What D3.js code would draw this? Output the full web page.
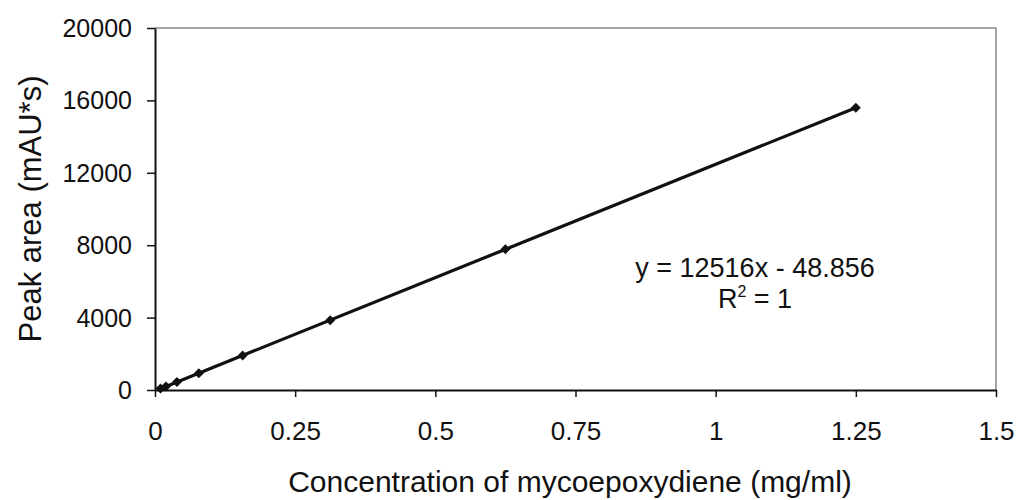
<!DOCTYPE html>
<html><head><meta charset="utf-8">
<script src="https://cdn.jsdelivr.net/npm/d3@7"></script>
<style>body{margin:0;background:#fff}text{font-family:"Liberation Sans",Arial,sans-serif;fill:#111}</style>
</head><body><svg id="c" width="1020" height="500"></svg>
<script>
const concentrations = [0.00977, 0.0195, 0.0391, 0.0781, 0.15625, 0.3125, 0.625, 1.25];
const peakAreas = [80, 200, 440, 930, 1900, 3860, 7780, 15600];
const xTicks = [0, 0.25, 0.5, 0.75, 1, 1.25, 1.5];
const yTicks = [0, 4000, 8000, 12000, 16000, 20000];
const trendSlope = 12516, trendIntercept = -48.856;
const xTitle = "Concentration of mycoepoxydiene (mg/ml)";
const yTitle = "Peak area (mAU*s)";

const svg = d3.select("#c");
const L = 155, R = 996, T = 28, B = 390;
const x = d3.scaleLinear().domain([0, 1.5]).range([L, R]);
const y = d3.scaleLinear().domain([0, 20000]).range([B, T]);

// frame top/right
svg.append("path").attr("d", `M${L},${T}H${R}V${B}`).attr("fill","none").attr("stroke","#888").attr("stroke-width",1.5);

const xa = svg.append("g").attr("transform",`translate(0,${B})`)
  .call(d3.axisBottom(x).tickValues(xTicks).tickFormat(d=>String(d)).tickSizeInner(7).tickSizeOuter(0));
const ya = svg.append("g").attr("transform",`translate(${L},0)`)
  .call(d3.axisLeft(y).tickValues(yTicks).tickFormat(d=>String(d)).tickSizeInner(8).tickSizeOuter(0));
[xa, ya].forEach(a=>{
  a.select(".domain").attr("stroke","#111").attr("stroke-width",2);
  a.selectAll(".tick line").attr("stroke","#111").attr("stroke-width",1.5);
  a.selectAll(".tick text").attr("fill","#111").style("font-family","Liberation Sans, Arial, sans-serif");
});
xa.selectAll(".tick text").attr("font-size",26).attr("y",32).attr("dy","0.71em");
ya.selectAll(".tick text").attr("font-size",25).attr("x",-23).attr("dy","0.34em");

// trendline
const x0 = d3.min(concentrations), x1 = d3.max(concentrations);
svg.append("line")
  .attr("x1", x(x0)).attr("y1", y(trendSlope*x0+trendIntercept))
  .attr("x2", x(x1)).attr("y2", y(trendSlope*x1+trendIntercept))
  .attr("stroke","#111").attr("stroke-width",3.2);

// markers (square diamond)
const marker = d3.symbol().type(d3.symbolSquare).size(50);
svg.selectAll(".pt").data(concentrations).join("path")
  .attr("d", marker).attr("fill","#111")
  .attr("transform",(d,i)=>`translate(${x(d)},${y(peakAreas[i])}) rotate(45)`);

// equation
svg.append("text").attr("x",755).attr("y",277).attr("text-anchor","middle").attr("font-size",27)
  .text("y = 12516x - 48.856");
const r2 = svg.append("text").attr("x",755).attr("y",308).attr("text-anchor","middle").attr("font-size",27);
r2.append("tspan").text("R");
r2.append("tspan").attr("font-size",16).attr("dy",-11).text("2");
r2.append("tspan").attr("dy",11).text(" = 1");

// titles
svg.append("text").attr("x",570).attr("y",492).attr("text-anchor","middle").attr("font-size",30).text(xTitle);
svg.append("text").attr("transform","translate(41,209) rotate(-90)").attr("text-anchor","middle").attr("font-size",31).text(yTitle);
</script></body></html>
